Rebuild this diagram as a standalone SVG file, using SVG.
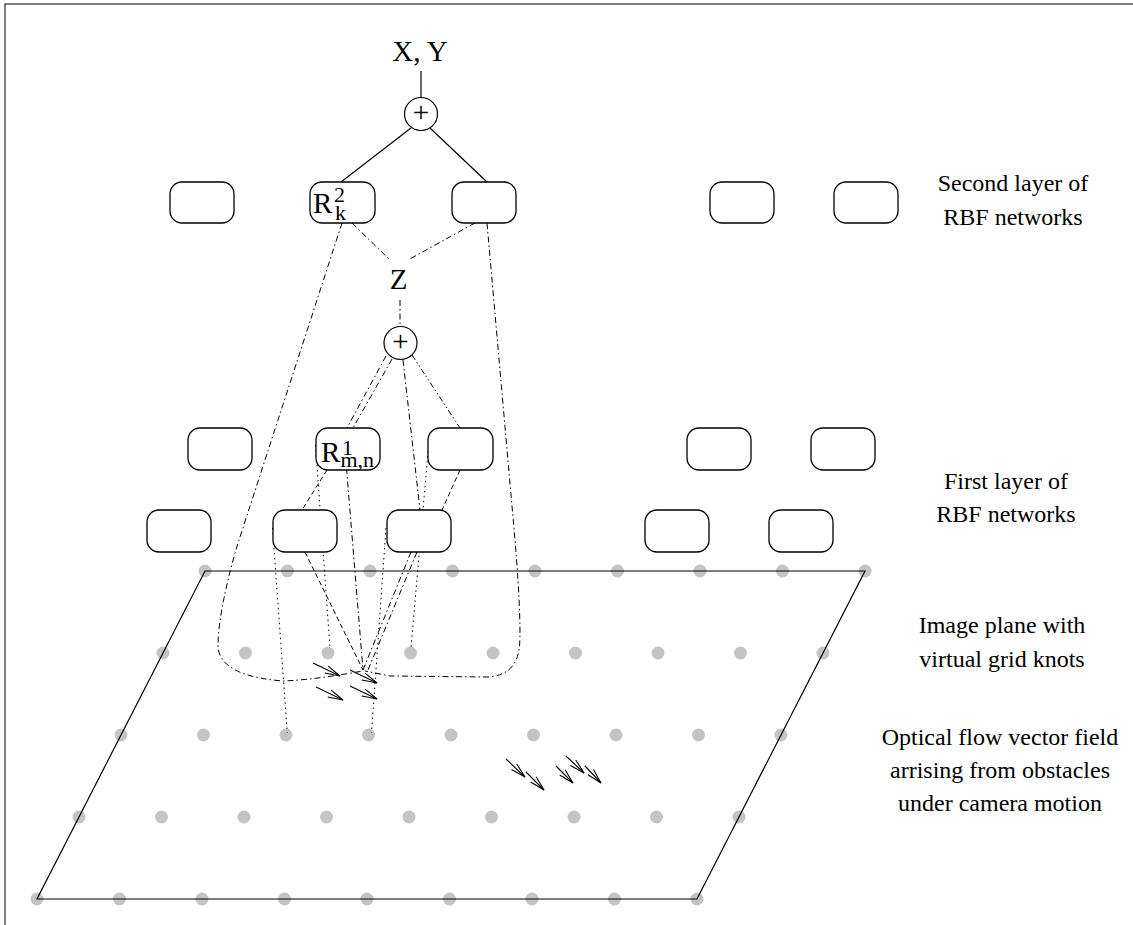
<svg xmlns="http://www.w3.org/2000/svg" xmlns:xlink="http://www.w3.org/1999/xlink" width="1133" height="925" viewBox="0 0 1133 925">
<style>
.txt{font-family:"Liberation Serif","Times New Roman",serif;fill:#000}
.lbl{font-size:24px;text-anchor:middle}
.big{font-size:29px}
.scr{font-size:22px}
.box{fill:#fff;stroke:#000;stroke-width:1.3}
.circ{fill:#fff;stroke:#000;stroke-width:1.2}
.solid{stroke:#000;stroke-width:1.2;fill:none}
.dd{stroke:#000;stroke-width:1;fill:none;stroke-dasharray:6 3 1.5 3}
.ddd{stroke:#000;stroke-width:1;fill:none;stroke-dasharray:6 2.5 1.5 2.5 1.5 2.5}
.dot{stroke:#000;stroke-width:1;fill:none;stroke-dasharray:1.5 3.5}
.dash{stroke:#000;stroke-width:1;fill:none;stroke-dasharray:5 3}
.vec{stroke:#000;stroke-width:1.1;fill:none}
.knot{fill:#c4c4c4}
</style>
<defs>
<circle id="k" r="6.5" class="knot"/>
<marker id="ah" markerUnits="userSpaceOnUse" viewBox="-16 -6 18 12" refX="0" refY="0" markerWidth="18" markerHeight="12" orient="auto">
<path d="M-15,-3.8 L0,0 L-15,3.8" fill="none" stroke="#000" stroke-width="1.1"/>
</marker>
</defs>
<g id="frame">
<line x1="4.5" y1="4" x2="1133" y2="4" stroke="#000" stroke-width="1"/>
<line x1="5" y1="4" x2="5" y2="925" stroke="#000" stroke-width="1"/>
</g>
<g id="grid">
<g id="knots">
<use xlink:href="#k" x="205" y="571"/><use xlink:href="#k" x="287.5" y="571"/><use xlink:href="#k" x="370" y="571"/><use xlink:href="#k" x="452.5" y="571"/><use xlink:href="#k" x="535" y="571"/><use xlink:href="#k" x="617.5" y="571"/><use xlink:href="#k" x="700" y="571"/><use xlink:href="#k" x="782.5" y="571"/><use xlink:href="#k" x="865" y="571"/>
<use xlink:href="#k" x="163" y="653"/><use xlink:href="#k" x="245.5" y="653"/><use xlink:href="#k" x="328" y="653"/><use xlink:href="#k" x="410.5" y="653"/><use xlink:href="#k" x="493" y="653"/><use xlink:href="#k" x="575.5" y="653"/><use xlink:href="#k" x="658" y="653"/><use xlink:href="#k" x="740.5" y="653"/><use xlink:href="#k" x="823" y="653"/>
<use xlink:href="#k" x="121" y="735"/><use xlink:href="#k" x="203.5" y="735"/><use xlink:href="#k" x="286" y="735"/><use xlink:href="#k" x="368.5" y="735"/><use xlink:href="#k" x="451" y="735"/><use xlink:href="#k" x="533.5" y="735"/><use xlink:href="#k" x="616" y="735"/><use xlink:href="#k" x="698.5" y="735"/><use xlink:href="#k" x="781" y="735"/>
<use xlink:href="#k" x="79" y="817"/><use xlink:href="#k" x="161.5" y="817"/><use xlink:href="#k" x="244" y="817"/><use xlink:href="#k" x="326.5" y="817"/><use xlink:href="#k" x="409" y="817"/><use xlink:href="#k" x="491.5" y="817"/><use xlink:href="#k" x="574" y="817"/><use xlink:href="#k" x="656.5" y="817"/><use xlink:href="#k" x="739" y="817"/>
<use xlink:href="#k" x="37" y="899"/><use xlink:href="#k" x="119.5" y="899"/><use xlink:href="#k" x="202" y="899"/><use xlink:href="#k" x="284.5" y="899"/><use xlink:href="#k" x="367" y="899"/><use xlink:href="#k" x="449.5" y="899"/><use xlink:href="#k" x="532" y="899"/><use xlink:href="#k" x="614.5" y="899"/><use xlink:href="#k" x="697" y="899"/>
</g>
<path id="plane" d="M205,571 L865,571 L697,899 L37,899 Z" fill="none" stroke="#000" stroke-width="1.2"/>
</g>
<g id="connectors">
<line class="solid" x1="421" y1="71" x2="421" y2="97.5"/>
<line class="solid" x1="411" y1="128" x2="341" y2="182"/>
<line class="solid" x1="430" y1="128" x2="487" y2="182"/>
<line class="dd" x1="352" y1="223" x2="390" y2="260"/>
<line class="dd" x1="475" y1="223" x2="408" y2="260"/>
<line class="dd" x1="400" y1="300" x2="400" y2="326.5"/>
<path class="dd" d="M342,223 L239,540 C228,575 218,620 218,645 C218,668 245,678 283,681 C310,680 340,675 363,671"/>
<path class="dd" d="M487,223 L515,540 C520,600 521,640 519,650 C516,668 505,676 487,677 L390,676 L365,671"/>
<line class="dd" x1="386" y1="356" x2="347" y2="428"/>
<line class="dd" x1="392" y1="359" x2="353" y2="428"/>
<line class="dd" x1="403" y1="360" x2="420" y2="510"/>
<line class="ddd" x1="412" y1="355" x2="460" y2="428"/>
<line class="dot" x1="315.5" y1="445" x2="330" y2="648"/>
<line class="dash" x1="327" y1="470" x2="302" y2="510"/>
<line class="dd" x1="346.5" y1="468" x2="363" y2="670"/>
<line class="dot" x1="428.5" y1="446" x2="411" y2="648"/>
<line class="dash" x1="460" y1="470" x2="442" y2="510"/>
<line class="dot" x1="272.5" y1="528" x2="287.3" y2="733"/>
<line class="dot" x1="386" y1="528" x2="371.5" y2="733"/>
<line class="dash" x1="305" y1="552" x2="363" y2="670"/>
<line class="dd" x1="411" y1="552" x2="363" y2="670"/>
<line class="dd" x1="417" y1="552" x2="368" y2="670"/>
</g>
<g id="vectors">
<line class="vec" x1="313" y1="663" x2="340" y2="676" marker-end="url(#ah)"/>
<line class="vec" x1="350" y1="670" x2="377" y2="683" marker-end="url(#ah)"/>
<line class="vec" x1="316" y1="687" x2="343" y2="700" marker-end="url(#ah)"/>
<line class="vec" x1="350" y1="686" x2="377" y2="699" marker-end="url(#ah)"/>
<line class="vec" x1="506" y1="759" x2="525" y2="777" marker-end="url(#ah)"/>
<line class="vec" x1="566" y1="756" x2="584" y2="773" marker-end="url(#ah)"/>
<line class="vec" x1="526" y1="772" x2="544" y2="790" marker-end="url(#ah)"/>
<line class="vec" x1="556" y1="766" x2="573" y2="783" marker-end="url(#ah)"/>
<line class="vec" x1="585" y1="766" x2="601" y2="783" marker-end="url(#ah)"/>
</g>
<g id="output">
<text class="txt big" x="420" y="61" text-anchor="middle">X, Y</text>
</g>
<g id="sum2">
<circle class="circ" cx="421" cy="114" r="16.5"/>
<text class="txt big" x="421" y="122" text-anchor="middle">+</text>
</g>
<g id="z">
<text class="txt big" x="398.5" y="289" text-anchor="middle">Z</text>
</g>
<g id="sum1">
<circle class="circ" cx="400.5" cy="343" r="16.5"/>
<text class="txt big" x="400.5" y="351" text-anchor="middle">+</text>
</g>
<g id="layer2-1"><rect class="box" x="170" y="182" width="64" height="41" rx="12"/></g>
<g id="layer2-2"><rect class="box" x="310" y="182" width="65" height="41" rx="12"/>
<text class="txt big" x="313" y="213">R<tspan class="scr" x="334" y="202">2</tspan><tspan class="scr" x="335" y="220">k</tspan></text></g>
<g id="layer2-3"><rect class="box" x="452" y="182" width="64" height="41" rx="12"/></g>
<g id="layer2-4"><rect class="box" x="710" y="182" width="64" height="41" rx="12"/></g>
<g id="layer2-5"><rect class="box" x="834" y="182" width="64" height="41" rx="12"/></g>
<g id="layer1a-1"><rect class="box" x="188" y="428" width="64" height="42" rx="12"/></g>
<g id="layer1a-2"><rect class="box" x="316" y="428" width="64" height="42" rx="12"/>
<text class="txt big" x="321" y="462">R<tspan class="scr" x="342" y="455">1</tspan><tspan class="scr" x="340.5" y="467">m,n</tspan></text></g>
<g id="layer1a-3"><rect class="box" x="428" y="428" width="65" height="42" rx="12"/></g>
<g id="layer1a-4"><rect class="box" x="687" y="428" width="64" height="42" rx="12"/></g>
<g id="layer1a-5"><rect class="box" x="811" y="428" width="64" height="42" rx="12"/></g>
<g id="layer1b-1"><rect class="box" x="147" y="510" width="64" height="42" rx="12"/></g>
<g id="layer1b-2"><rect class="box" x="273" y="510" width="64" height="42" rx="12"/></g>
<g id="layer1b-3"><rect class="box" x="387" y="510" width="64" height="42" rx="12"/></g>
<g id="layer1b-4"><rect class="box" x="645" y="510" width="64" height="42" rx="12"/></g>
<g id="layer1b-5"><rect class="box" x="769" y="510" width="64" height="42" rx="12"/></g>
<g id="labels">
<text class="txt lbl" x="1013" y="191">Second layer of</text>
<text class="txt lbl" x="1013" y="225">RBF networks</text>
<text class="txt lbl" x="1006" y="489">First layer of</text>
<text class="txt lbl" x="1006" y="522">RBF networks</text>
<text class="txt lbl" x="1002" y="633">Image plane with</text>
<text class="txt lbl" x="1002" y="667">virtual grid knots</text>
<text class="txt lbl" x="1000" y="745">Optical flow vector field</text>
<text class="txt lbl" x="1000" y="778">arrising from obstacles</text>
<text class="txt lbl" x="1000" y="811">under camera motion</text>
</g>
</svg>
